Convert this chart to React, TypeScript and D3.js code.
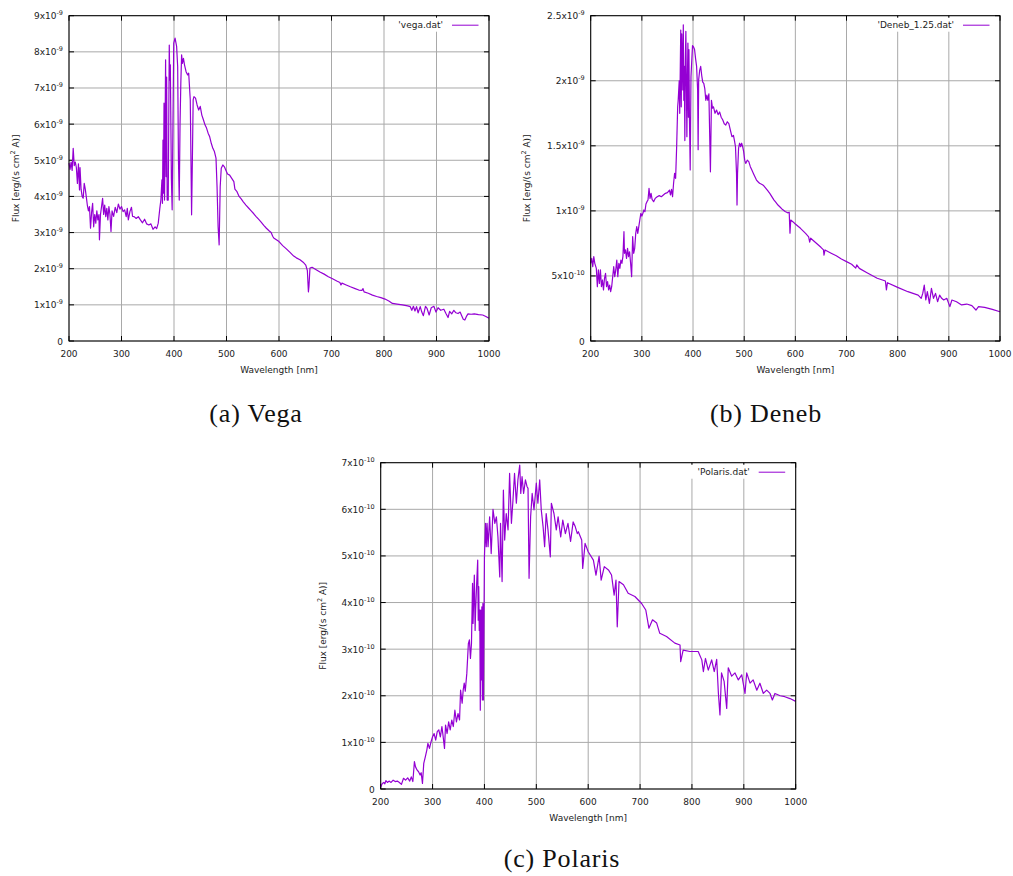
import React from 'react';
import * as d3 from 'd3';

const xTicks = [200, 300, 400, 500, 600, 700, 800, 900, 1000];

// Vega spectrum, [wavelength nm, flux in 1e-9 erg/(s cm2 A)]
const vegaSpectrum = [
  [200, 4.92], [202, 4.75], [204, 4.95], [206, 4.72], [208, 5.33], [210, 4.85], [212, 4.95], [214, 4.8],
  [216, 4.36], [218, 4.9], [220, 4.18], [221, 4.8], [223, 4.2], [225, 4.0], [227, 3.95], [229, 4.36],
  [231, 4.2], [233, 3.98], [235, 3.75], [237, 3.6], [239, 3.72], [241, 3.12], [243, 3.55], [245, 3.81],
  [247, 3.16], [249, 3.5], [251, 3.26], [253, 3.6], [255, 3.35], [257, 3.5], [258, 2.8], [260, 3.5],
  [262, 3.72], [264, 3.95], [266, 3.5], [268, 3.76], [270, 3.44], [272, 3.67], [274, 3.35], [276, 3.72],
  [278, 3.5], [280, 3.03], [282, 3.6], [285, 3.45], [288, 3.7], [291, 3.55], [294, 3.79], [297, 3.65],
  [300, 3.72], [303, 3.58], [306, 3.63], [309, 3.44], [311, 3.67], [313, 3.35], [316, 3.58], [319, 3.7],
  [321, 3.45], [324, 3.44], [328, 3.39], [332, 3.44], [336, 3.35], [340, 3.27], [344, 3.37], [348, 3.24],
  [352, 3.21], [356, 3.24], [360, 3.09], [364, 3.16], [367, 3.11], [370, 3.26], [373, 3.67], [375, 3.9],
  [377, 4.46], [378, 3.81], [379, 5.56], [380, 4.09], [381, 6.58], [382, 3.9], [384, 7.78], [385, 4.55],
  [386, 7.3], [387, 3.9], [389, 3.9], [391, 8.19], [392, 7.22], [393, 7.64], [395, 4.5], [396.5, 3.63],
  [398, 6.0], [399.5, 8.24], [402, 8.38], [405, 8.15], [407, 7.59], [408.5, 5.0], [410, 3.9], [411.5, 6.0],
  [413, 7.13], [414.5, 7.92], [416, 7.68], [418, 7.82], [420, 7.64], [423, 7.45], [426, 7.36], [428, 7.41],
  [431, 6.67], [433.5, 3.49], [435, 5.0], [436.5, 6.67], [438, 6.76], [441, 6.72], [444, 6.53], [447, 6.39],
  [450, 6.49], [453, 6.25], [456, 6.12], [459, 5.98], [462, 5.89], [465, 5.75], [468, 5.65], [471, 5.47],
  [474, 5.33], [477, 5.24], [480, 5.06], [482, 4.27], [484, 3.16], [486, 2.66], [488, 4.27], [490, 4.78],
  [493, 4.87], [496, 4.82], [499, 4.72], [502, 4.62], [506, 4.59], [510, 4.5], [514, 4.41], [516, 4.2],
  [520, 4.13], [524, 4.0], [528, 3.93], [532, 3.85], [537, 3.76], [542, 3.68], [547, 3.6], [552, 3.52],
  [556, 3.45], [561, 3.37], [566, 3.29], [571, 3.2], [576, 3.12], [581, 3.05], [585, 3.0], [588, 2.9],
  [590, 2.85], [595, 2.8], [600, 2.75], [607, 2.64], [614, 2.55], [621, 2.45], [628, 2.35], [633, 2.3],
  [640, 2.25], [646, 2.18], [651, 2.1], [654, 1.95], [656, 1.36], [657, 1.5], [659, 2.02], [663, 2.04],
  [670, 1.98], [678, 1.91], [686, 1.85], [694, 1.78], [702, 1.72], [710, 1.66], [716, 1.62], [718, 1.55],
  [720, 1.6], [728, 1.55], [736, 1.5], [745, 1.45], [752, 1.41], [758, 1.4], [760, 1.45], [762, 1.36],
  [770, 1.32], [778, 1.27], [786, 1.23], [794, 1.2], [802, 1.16], [810, 1.1], [816, 1.04], [825, 1.02],
  [835, 1.0], [845, 0.97], [850, 0.95], [853, 0.85], [856, 0.96], [859, 0.83], [862, 0.95], [865, 0.78],
  [869, 0.95], [872, 0.8], [875, 0.7], [879, 0.96], [882, 0.9], [886, 0.72], [890, 0.92], [895, 0.96],
  [899, 0.8], [903, 0.92], [908, 0.85], [914, 0.88], [918, 0.76], [922, 0.65], [925, 0.82], [929, 0.75],
  [933, 0.85], [937, 0.78], [941, 0.76], [945, 0.8], [948, 0.7], [951, 0.6], [954, 0.58], [957, 0.68],
  [960, 0.75], [966, 0.74], [972, 0.75], [980, 0.73], [988, 0.72], [994, 0.68], [1000, 0.63],
];
const vegaYTicks = [0, 1, 2, 3, 4, 5, 6, 7, 8, 9];
const vegaYLabels = [['0', ''], ['1', '-9'], ['2', '-9'], ['3', '-9'], ['4', '-9'], ['5', '-9'], ['6', '-9'], ['7', '-9'], ['8', '-9'], ['9', '-9']];

// Deneb spectrum, [wavelength nm, flux in 1e-10]
const denebSpectrum = [
  [200, 5.97], [202, 6.35], [204, 5.71], [206, 6.48], [208, 5.97], [211, 5.58], [213, 4.17], [215, 5.46],
  [217, 4.43], [219, 5.46], [221, 4.17], [223, 4.69], [225, 3.92], [227, 4.82], [229, 5.2], [231, 4.17],
  [233, 4.56], [235, 3.92], [237, 4.3], [239, 3.79], [241, 4.17], [243, 4.94], [245, 5.71], [247, 4.94],
  [249, 5.46], [251, 6.22], [253, 4.94], [255, 5.97], [257, 5.58], [259, 6.22], [261, 5.97], [263, 6.5],
  [265, 8.4], [266, 6.74], [268, 7.0], [270, 6.35], [272, 7.12], [274, 6.48], [276, 6.86], [278, 5.97],
  [280, 4.94], [282, 8.02], [284, 6.74], [286, 7.12], [288, 8.27], [290, 8.79], [292, 8.27], [294, 8.79],
  [296, 9.3], [298, 9.81], [300, 9.6], [302, 9.81], [304, 10.07], [306, 9.94], [308, 10.53], [310, 10.71],
  [312, 10.84], [314, 11.73], [316, 10.96], [318, 11.35], [320, 10.89], [323, 10.71], [326, 10.96], [330, 11.09],
  [334, 11.17], [338, 11.09], [342, 11.22], [346, 11.35], [350, 11.4], [354, 11.6], [356, 11.22], [358, 11.65],
  [360, 11.09], [362, 12.12], [364, 12.88], [366, 12.5], [368, 14.93], [370, 18.0], [371, 18.5], [373, 20.0],
  [374, 17.5], [376, 23.9], [377, 18.0], [378, 23.6], [380, 19.3], [381, 24.3], [382, 18.5], [383, 21.1],
  [384, 15.4], [385, 21.6], [386, 23.8], [387, 19.8], [388, 15.7], [389, 20.0], [390, 22.9], [391, 17.2],
  [392, 22.4], [393, 17.1], [394.5, 13.14], [396, 20.3], [397, 21.1], [399, 22.7], [401, 22.6], [403, 22.4],
  [405, 21.7], [407, 21.1], [409, 19.3], [410, 14.7], [411, 20.06], [413, 20.8], [415, 21.1], [417, 20.4],
  [419, 19.9], [421, 19.8], [423, 19.4], [425, 18.5], [427, 18.9], [429, 18.5], [431, 19.0], [434, 13.0],
  [436, 18.5], [438, 17.9], [440, 18.0], [443, 17.5], [446, 17.75], [449, 17.4], [452, 17.6], [455, 17.2],
  [458, 17.0], [461, 16.7], [464, 16.6], [467, 16.85], [470, 16.7], [473, 16.2], [476, 15.7], [479, 15.8],
  [481, 15.4], [483, 14.93], [485, 12.88], [486, 10.45], [487, 12.88], [489, 14.8], [491, 15.2], [493, 14.93],
  [495, 15.2], [497, 14.93], [499, 14.55], [501, 13.9], [503, 13.65], [506, 13.9], [509, 13.78], [512, 13.4],
  [515, 13.14], [518, 12.88], [521, 12.63], [524, 12.37], [527, 12.24], [530, 12.12], [534, 12.05], [538, 11.95],
  [542, 11.75], [546, 11.55], [550, 11.35], [554, 11.1], [558, 10.85], [562, 10.65], [566, 10.45], [570, 10.3],
  [575, 10.1], [580, 9.95], [585, 9.85], [588, 9.9], [589.5, 8.28], [591, 9.3], [595, 9.17], [600, 8.99],
  [610, 8.66], [620, 8.27], [626, 8.0], [628, 7.6], [630, 7.9], [640, 7.55], [650, 7.2], [655, 7.0],
  [656, 6.6], [658, 7.0], [670, 6.75], [680, 6.55], [690, 6.3], [700, 6.1], [710, 5.9], [718, 5.6],
  [720, 5.85], [725, 5.58], [740, 5.25], [760, 4.82], [776, 4.61], [778, 3.92], [780, 4.48], [800, 4.12],
  [820, 3.79], [840, 3.53], [846, 3.28], [849, 3.66], [852, 4.3], [855, 3.15], [858, 3.79], [862, 2.89],
  [866, 4.05], [870, 3.28], [874, 3.66], [878, 3.02], [882, 3.53], [886, 3.28], [890, 3.15], [896, 3.28],
  [902, 2.64], [906, 3.15], [915, 3.02], [925, 2.77], [935, 2.84], [945, 2.72], [953, 2.38], [958, 2.64],
  [970, 2.59], [985, 2.43], [1000, 2.25],
];
const denebYTicks = [0, 5, 10, 15, 20, 25];
const denebYLabels = [['0', ''], ['5', '-10'], ['1', '-9'], ['1.5', '-9'], ['2', '-9'], ['2.5', '-9']];

// Polaris spectrum, [wavelength nm, flux in 1e-10]
const polarisSpectrum = [
  [200, 0.04], [203, 0.12], [206, 0.14], [208, 0.11], [210, 0.18], [213, 0.14], [216, 0.17], [220, 0.14],
  [224, 0.19], [228, 0.16], [232, 0.17], [236, 0.14], [240, 0.1], [244, 0.23], [248, 0.19], [252, 0.24],
  [256, 0.17], [259, 0.26], [262, 0.16], [265, 0.59], [267, 0.48], [270, 0.41], [273, 0.37], [276, 0.3],
  [278, 0.35], [280.5, 0.12], [283, 0.55], [286, 0.69], [289, 0.84], [291, 0.98], [294, 0.87], [297, 1.01],
  [300, 1.12], [303, 1.19], [306, 1.05], [309, 1.23], [312, 1.27], [315, 1.12], [318, 1.34], [320, 1.16],
  [323, 0.87], [325, 1.37], [328, 1.19], [331, 1.44], [334, 1.27], [337, 1.48], [340, 1.34], [343, 1.69],
  [346, 1.44], [349, 1.62], [352, 1.48], [354, 2.12], [357, 1.84], [359, 2.12], [361, 2.27], [363, 2.1],
  [366, 2.48], [369, 3.12], [371, 3.2], [373, 2.8], [375, 3.12], [377, 4.41], [378, 3.55], [380.5, 4.59],
  [382, 3.4], [383, 3.84], [385, 4.4], [387, 4.91], [388, 3.62], [389, 4.34], [390, 3.4], [391, 3.84],
  [392, 1.69], [393, 3.84], [394, 2.34], [395, 3.91], [396, 1.91], [397, 3.98], [398, 1.91], [400, 4.98],
  [402, 5.7], [403.5, 5.2], [405, 5.7], [407, 5.2], [410, 5.84], [413, 5.05], [416.5, 6.0], [420, 5.7],
  [423, 5.84], [426, 5.41], [429.5, 4.55], [431, 5.7], [434, 4.45], [436.5, 6.41], [439, 5.34], [442, 5.91],
  [445.5, 5.56], [448.5, 6.77], [452, 5.7], [455, 6.2], [458, 6.77], [461.5, 6.13], [464.5, 6.63], [468, 6.95],
  [470, 6.34], [472.5, 6.7], [475.5, 6.34], [479, 6.63], [482, 6.49], [484, 6.45], [486, 4.52], [489, 5.84],
  [492, 6.34], [495.5, 5.99], [500, 6.56], [503, 6.13], [506.5, 6.63], [509.5, 5.99], [513, 5.63], [516, 5.2],
  [519, 5.91], [522.5, 5.56], [527, 4.98], [529, 6.13], [534, 5.91], [538.5, 5.56], [542, 5.84], [547, 5.41],
  [551, 5.77], [556, 5.48], [561, 5.7], [566, 5.31], [571, 5.73], [575, 5.63], [579, 5.48], [581, 5.52],
  [587.5, 5.34], [589.4, 4.73], [594, 5.27], [600, 5.09], [610, 4.91], [615, 4.59], [621, 4.99], [625, 4.48],
  [631, 4.77], [639, 4.7], [645, 4.59], [650, 4.16], [653.6, 4.48], [656, 3.48], [659.4, 4.45], [668, 4.38],
  [677, 4.2], [690, 4.13], [703, 3.98], [711, 3.84], [717, 3.45], [724, 3.63], [732, 3.56], [738, 3.34],
  [751, 3.27], [767, 3.13], [777, 3.09], [778.3, 2.73], [783, 2.98], [796, 2.95], [812, 2.95], [819, 2.77],
  [822, 2.52], [826, 2.8], [831.5, 2.55], [838, 2.77], [843, 2.52], [847.7, 2.78], [851, 2.05], [854, 1.59],
  [857, 2.49], [862, 2.31], [867, 1.73], [870, 2.6], [876.6, 2.42], [883, 2.49], [889.4, 2.34], [896, 2.45],
  [902.3, 2.05], [905.5, 2.49], [912, 2.27], [918, 2.34], [925, 2.12], [931, 2.27], [937.6, 2.05], [944, 2.12],
  [950.5, 2.05], [955, 1.91], [960, 2.05], [970, 2.0], [979, 1.98], [989, 1.94], [1000, 1.88],
];
const polarisYTicks = [0, 1, 2, 3, 4, 5, 6, 7];
const polarisYLabels = [['0', ''], ['1', '-10'], ['2', '-10'], ['3', '-10'], ['4', '-10'], ['5', '-10'], ['6', '-10'], ['7', '-10']];

const LINE = '#9400d3';
const GRID = '#a9a9a9';
const SANS = 'DejaVu Sans, sans-serif';
const SERIF = 'Liberation Serif, Times New Roman, serif';

function Panel(props) {
  const { left, top, width, height, data, yMax, yTicks, yLabels, legend, caption, captionX, captionY, ylabelX } = props;
  const right = left + width;
  const bottom = top + height;
  const x = d3.scaleLinear().domain([200, 1000]).range([left, right]);
  const y = d3.scaleLinear().domain([0, yMax]).range([bottom, top]);
  const line = d3.line().x(d => x(d[0])).y(d => y(d[1]));
  const tl = 5;
  const legY = top + 9.5;
  const legEnd = right - 46;
  const legW = legend.length * 5.3;

  return (
    <g>
      {xTicks.map(t => (
        <line key={'gx' + t} x1={x(t)} x2={x(t)} y1={top} y2={bottom} stroke={GRID} strokeWidth={1} />
      ))}
      {yTicks.map(t => (
        <line key={'gy' + t} x1={left} x2={right} y1={y(t)} y2={y(t)} stroke={GRID} strokeWidth={1} />
      ))}
      {xTicks.map(t => (
        <g key={'tx' + t}>
          <line x1={x(t)} x2={x(t)} y1={bottom} y2={bottom - tl} stroke="#000" />
          <line x1={x(t)} x2={x(t)} y1={top} y2={top + tl} stroke="#000" />
          <text x={x(t)} y={bottom + 15.5} textAnchor="middle" fontSize={9} fontFamily={SANS} fill="#222">{t}</text>
        </g>
      ))}
      {yTicks.map((t, i) => (
        <g key={'ty' + t}>
          <line x1={left} x2={left + tl} y1={y(t)} y2={y(t)} stroke="#000" />
          <line x1={right} x2={right - tl} y1={y(t)} y2={y(t)} stroke="#000" />
          <text x={left - 6} y={y(t) + 3.5} textAnchor="end" fontSize={9} fontFamily={SANS} fill="#222">
            {yLabels[i][1] === '' ? yLabels[i][0] : (
              <>
                {yLabels[i][0] + 'x10'}
                <tspan fontSize={6.5} dy={-4}>{yLabels[i][1]}</tspan>
              </>
            )}
          </text>
        </g>
      ))}
      <rect x={legEnd - legW - 2} y={top + 2} width={legW + 5} height={14} fill="#fff" />
      <text x={legEnd} y={legY + 3.2} textAnchor="end" fontSize={9} fontFamily={SANS} fill="#222">{legend}</text>
      <line x1={right - 37} x2={right - 10.5} y1={legY} y2={legY} stroke={LINE} strokeWidth={1} />
      <path d={line(data)} fill="none" stroke={LINE} strokeWidth={1.2} strokeLinejoin="round" />
      <rect x={left} y={top} width={width} height={height} fill="none" stroke="#000" strokeWidth={1} />
      <text x={(left + right) / 2} y={bottom + 32} textAnchor="middle" fontSize={9} fontFamily={SANS} fill="#222">Wavelength [nm]</text>
      <text transform={`translate(${ylabelX},${(top + bottom) / 2}) rotate(-90)`} textAnchor="middle" fontSize={9} fontFamily={SANS} fill="#222">
        Flux [erg/(s cm<tspan fontSize={6.5} dy={-4}>2</tspan><tspan dy={4}> A)]</tspan>
      </text>
      <text x={captionX} y={captionY} textAnchor="middle" fontSize={26} fontFamily={SERIF} letterSpacing={0.8} fill="#111">{caption}</text>
    </g>
  );
}

export default function App() {
  return (
    <svg width={1013} height={876} style={{ position: 'absolute', left: 0, top: 0, background: '#fff' }}>
      <Panel left={69} top={15.7} width={420} height={325.3} data={vegaSpectrum} yMax={9}
        yTicks={vegaYTicks} yLabels={vegaYLabels} legend="'vega.dat'" caption="(a) Vega"
        captionX={256} captionY={422} ylabelX={19} />
      <Panel left={590.7} top={15.7} width={409.3} height={325.3} data={denebSpectrum} yMax={25}
        yTicks={denebYTicks} yLabels={denebYLabels} legend="'Deneb_1.25.dat'" caption="(b) Deneb"
        captionX={766} captionY={422} ylabelX={530} />
      <Panel left={380.7} top={462.7} width={415} height={326.3} data={polarisSpectrum} yMax={7}
        yTicks={polarisYTicks} yLabels={polarisYLabels} legend="'Polaris.dat'" caption="(c) Polaris"
        captionX={562} captionY={867} ylabelX={326} />
    </svg>
  );
}
